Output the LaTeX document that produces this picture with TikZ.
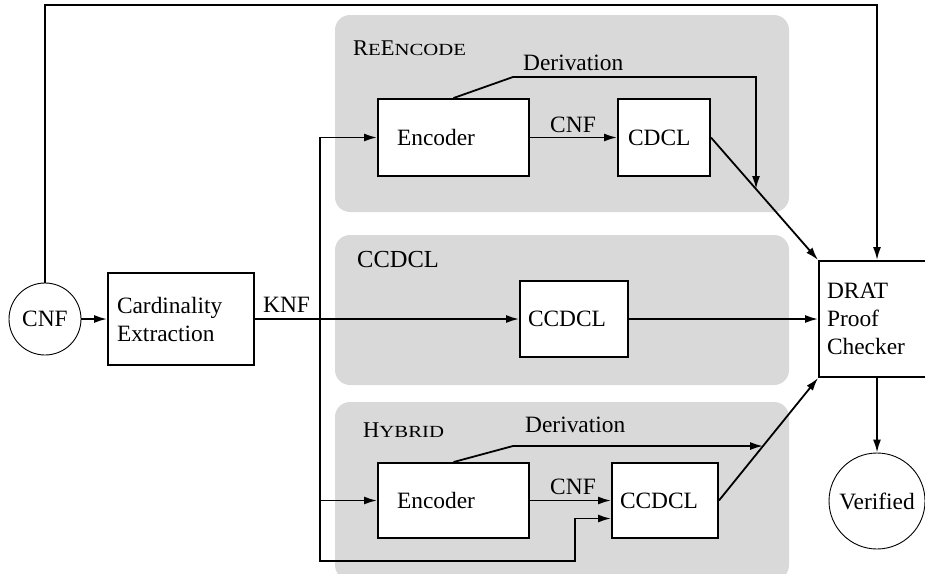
\documentclass[tikz,border=0pt]{standalone}
\usepackage{fontspec}
\setmainfont{Liberation Serif}
\usetikzlibrary{arrows.meta}
\newcommand{\fsc}[1]{{\fontsize{17}{20}\selectfont\scalebox{1.22}[1]{#1}}}
\begin{document}
\begin{tikzpicture}[x=1pt,y=-1pt,
  every node/.style={font=\fontsize{23.4}{28}\selectfont},
  panel/.style={fill=panelgray, rounded corners=15pt},
  boxnode/.style={draw, line width=1.9pt, fill=white, align=left, inner ysep=0pt},
  roundnode/.style={draw, circle, line width=0.9pt, inner sep=0pt, fill=white},
  arr/.style={line width=1.8pt, -{Latex[length=13pt,width=8pt]}},
  plain/.style={line width=1.8pt},
  lbl/.style={inner sep=0pt, anchor=base west},
  plbl/.style={inner sep=0pt, anchor=base west, font=\fontsize{22.5}{26}\selectfont},
]
\definecolor{panelgray}{HTML}{D9D9D9}
\clip (0,0) rectangle (925,573);
\fill[white] (0,0) rectangle (925,573);

% panels
\fill[panel] (335,15) rectangle (789,212);
\fill[panel] (335,235) rectangle (789,385);
\fill[panel] (335,402) rectangle (789,580);

\node[plbl] (lre) at (353,55) {R\fsc{E}E\fsc{NCODE}};
\node[plbl, font=\fontsize{24.5}{28}\selectfont] (lcc) at (357,267) {CCDCL};
\node[plbl] (lhy) at (363,437) {H\fsc{YBRID}};

% nodes
\node[roundnode, minimum size=72pt] (cnf) at (45,319) {CNF};
\node[boxnode, text width=128pt, inner xsep=9pt, minimum height=92pt] (card) at (181,319) {Cardinality\\Extraction};
\node[boxnode, text width=113pt, inner xsep=19pt, minimum height=77pt] (enc1) at (453.5,137.5) {Encoder};
\node[boxnode, text width=72pt, inner xsep=10pt, minimum height=77pt] (cdcl1) at (664,137.5) {CDCL};
\node[boxnode, text width=92pt, inner xsep=8pt, minimum height=76pt] (ccdcl) at (574,319) {CCDCL};
\node[boxnode, text width=113pt, inner xsep=19pt, minimum height=75pt] (enc2) at (453.5,500.5) {Encoder};
\node[boxnode, text width=90pt, inner xsep=8pt, minimum height=75pt] (ccd2) at (665,500.5) {CCDCL};
\node[boxnode, text width=100pt, inner xsep=8pt, minimum height=116pt] (drat) at (877,319) {DRAT\\Proof\\Checker};
\node[roundnode, minimum size=96pt] (ver) at (877,501) {Verified};

% coordinates
\coordinate (topr) at (877,5);
\coordinate (split) at (320,319);
\coordinate (bot) at (575,561);
\coordinate (d1a) at (513,77);
\coordinate (d2a) at (513,446);
\coordinate (dpt1) at (intersection of cdcl1.east--drat.north west and 756,0--756,300);
\coordinate (dpt2) at (intersection of ccd2.east--drat.south west and 0,446--900,446);

% connectors
\draw[arr] (cnf.north) |- (topr) -- (drat.north);
\draw[arr] (cnf.east) -- (card.west);
\draw[arr] (card.east) -- (ccdcl.west);
\node[lbl] (knf) at (263,312) {KNF};
\draw[arr] (split) |- (enc1.west);
\draw[arr] (split) |- (enc2.west);
\draw[arr] (split) |- (bot) |- ([yshift=-18pt]ccd2.west);

\draw[arr] (enc1.east) -- (cdcl1.west);
\node[inner sep=0pt, anchor=base] (cnf1) at (573,132.5) {CNF};
\draw[arr] (enc1.north) -- (d1a) -| (dpt1);
\node[lbl] (der1) at (523,70.5) {Derivation};
\draw[arr] (cdcl1.east) -- (drat.north west);

\draw[arr] (ccdcl.east) -- (drat.west);

\draw[arr] (enc2.east) -- (ccd2.west);
\node[inner sep=0pt, anchor=base] (cnf2) at (573,494.5) {CNF};
\draw[arr] (enc2.north) -- (d2a) -- (dpt2);
\node[lbl] (der2) at (525,432.5) {Derivation};
\draw[arr] (ccd2.east) -- (drat.south west);

\draw[arr] (drat.south) -- (ver.north);
\end{tikzpicture}
\end{document}
